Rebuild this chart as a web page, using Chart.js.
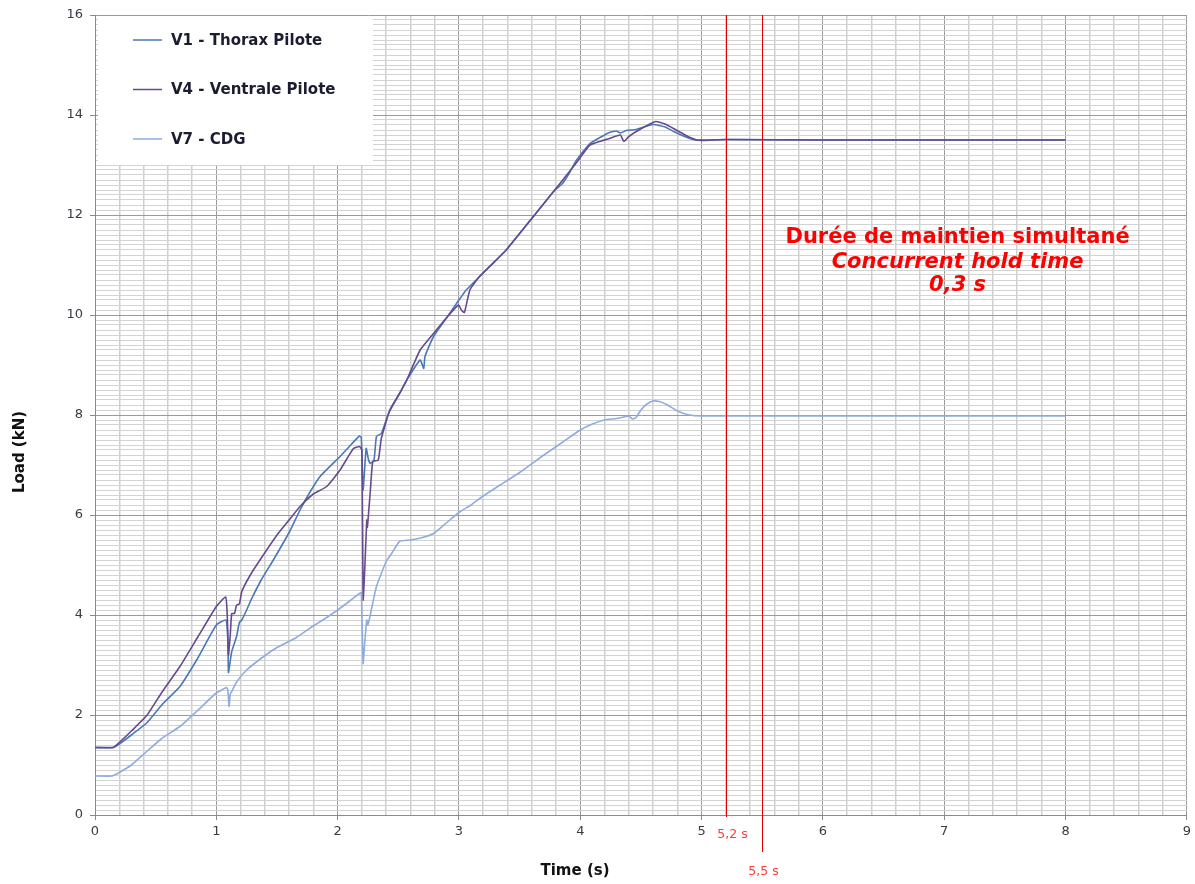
<!DOCTYPE html>
<html>
<head>
<meta charset="utf-8">
<title>Load vs time</title>
<script src="https://cdn.jsdelivr.net/npm/chart.js@4.4.1/dist/chart.umd.min.js"></script>
<style>
  html, body { margin: 0; padding: 0; background: #fff; }
  #wrap { width: 1195px; height: 884px; position: relative; }
</style>
</head>
<body>
<div id="wrap"><canvas id="chart"></canvas></div>
<script>
// V1 - Thorax Pilote
const v1Time = [0, 0.15, 0.2, 0.3, 0.43, 0.55, 0.7, 0.85, 1.0, 1.08, 1.095, 1.1, 1.11, 1.127, 1.167, 1.19, 1.21, 1.25, 1.29, 1.37, 1.47, 1.6, 1.69, 1.77, 1.855, 1.94, 2.02, 2.1, 2.18, 2.195, 2.21, 2.235, 2.255, 2.27, 2.3, 2.32, 2.36, 2.42, 2.51, 2.57, 2.68, 2.71, 2.72, 2.79, 2.9, 3.0, 3.06, 3.17, 3.39, 3.5, 3.65, 3.79, 3.85, 3.9, 3.97, 4.08, 4.24, 4.3, 4.33, 4.38, 4.46, 4.6, 4.7, 4.77, 4.85, 4.93, 5.0, 5.2, 6.0, 7.0, 8.0];
const v1Load = [1.35, 1.35, 1.42, 1.6, 1.85, 2.2, 2.57, 3.15, 3.8, 3.9, 3.5, 2.85, 3.0, 3.27, 3.57, 3.85, 3.9, 4.1, 4.32, 4.7, 5.1, 5.65, 6.1, 6.45, 6.77, 6.98, 7.17, 7.38, 7.58, 7.55, 6.5, 7.33, 7.1, 7.03, 7.1, 7.57, 7.63, 8.03, 8.43, 8.7, 9.1, 8.93, 9.17, 9.57, 9.95, 10.3, 10.5, 10.77, 11.3, 11.63, 12.08, 12.5, 12.62, 12.8, 13.1, 13.43, 13.65, 13.68, 13.64, 13.69, 13.71, 13.81, 13.76, 13.67, 13.58, 13.51, 13.49, 13.51, 13.5, 13.5, 13.5];

// V4 - Ventrale Pilote
const v4Time = [0, 0.15, 0.2, 0.3, 0.43, 0.55, 0.7, 0.85, 1.0, 1.077, 1.09, 1.1, 1.115, 1.127, 1.15, 1.167, 1.19, 1.21, 1.28, 1.36, 1.5, 1.6, 1.69, 1.8, 1.91, 2.02, 2.13, 2.18, 2.2, 2.21, 2.225, 2.24, 2.245, 2.27, 2.29, 2.335, 2.36, 2.43, 2.51, 2.57, 2.68, 2.79, 2.9, 2.995, 3.02, 3.045, 3.09, 3.17, 3.39, 3.5, 3.65, 3.79, 3.97, 4.08, 4.24, 4.33, 4.36, 4.4, 4.49, 4.62, 4.7, 4.79, 4.88, 4.96, 5.2, 6.0, 7.0, 8.0];
const v4Load = [1.35, 1.35, 1.45, 1.68, 2.0, 2.45, 2.97, 3.57, 4.17, 4.36, 4.0, 3.2, 3.6, 4.03, 4.03, 4.2, 4.22, 4.47, 4.8, 5.1, 5.6, 5.9, 6.17, 6.42, 6.57, 6.9, 7.33, 7.37, 7.3, 4.3, 5.0, 5.9, 5.75, 6.5, 7.07, 7.1, 7.53, 8.1, 8.43, 8.7, 9.3, 9.63, 9.95, 10.2, 10.1, 10.05, 10.5, 10.77, 11.3, 11.63, 12.08, 12.5, 13.05, 13.4, 13.53, 13.6, 13.47, 13.57, 13.71, 13.87, 13.82, 13.7, 13.58, 13.5, 13.51, 13.5, 13.5, 13.5];

// V7 - CDG
const v7Time = [0, 0.14, 0.2, 0.3, 0.426, 0.55, 0.7, 0.85, 0.995, 1.085, 1.095, 1.105, 1.115, 1.127, 1.17, 1.25, 1.39, 1.5, 1.66, 1.78, 1.91, 2.0, 2.1, 2.18, 2.195, 2.21, 2.225, 2.24, 2.25, 2.28, 2.32, 2.4, 2.45, 2.51, 2.6, 2.7, 2.79, 2.9, 3.01, 3.1, 3.2, 3.34, 3.5, 3.7, 3.85, 4.0, 4.1, 4.2, 4.3, 4.4, 4.43, 4.46, 4.5, 4.55, 4.6, 4.65, 4.72, 4.8, 4.9, 5.0, 6.0, 7.0, 8.0];
const v7Load = [0.78, 0.78, 0.85, 1.0, 1.27, 1.53, 1.77, 2.1, 2.43, 2.55, 2.5, 2.17, 2.42, 2.47, 2.67, 2.9, 3.17, 3.35, 3.55, 3.75, 3.95, 4.1, 4.28, 4.43, 4.45, 3.03, 3.5, 3.9, 3.8, 4.13, 4.57, 5.07, 5.25, 5.47, 5.5, 5.55, 5.63, 5.85, 6.07, 6.2, 6.38, 6.6, 6.85, 7.2, 7.45, 7.7, 7.82, 7.9, 7.93, 7.98, 7.92, 7.95, 8.1, 8.22, 8.28, 8.27, 8.2, 8.08, 8.0, 7.98, 7.98, 7.98, 7.98];

const seriesNames = ["V1 - Thorax Pilote", "V4 - Ventrale Pilote", "V7 - CDG"];
const seriesColors = ["#4a78b4", "#654a8e", "#8eaddc"];

const holdStart = 5.2;
const holdEnd = 5.5;
const holdLabels = ["5,2 s", "5,5 s"];
const noteLines = ["Durée de maintien simultané", "Concurrent hold time", "0,3 s"];

const FONT = "'DejaVu Sans', Verdana, sans-serif";

function toPoints(xs, ys) {
  return xs.map((x, i) => ({ x: x, y: ys[i] }));
}

function isWhole(v) {
  return Math.abs(v - Math.round(v)) < 1e-6;
}

function isMajorY(v) {
  return isWhole(v) && Math.round(v) % 2 === 0;
}

const overlay = {
  id: "overlay",
  afterDraw(chart) {
    const ctx = chart.ctx;
    const xs = chart.scales.x;
    const ys = chart.scales.y;
    const area = chart.chartArea;

    // legend box
    ctx.save();
    ctx.fillStyle = "#fff";
    ctx.fillRect(area.left + 3, area.top + 1, 275, 149);
    ctx.font = "bold 15px " + FONT;
    ctx.textBaseline = "middle";
    seriesNames.forEach((name, i) => {
      const y = area.top + 25 + i * 49.5;
      ctx.strokeStyle = seriesColors[i];
      ctx.lineWidth = 1.5;
      ctx.beginPath();
      ctx.moveTo(area.left + 38, y);
      ctx.lineTo(area.left + 67, y);
      ctx.stroke();
      ctx.fillStyle = "#1c1c30";
      ctx.fillText(name, area.left + 76, y + 1);
    });

    // hold time markers
    const x1 = Math.round(xs.getPixelForValue(holdStart)) + 0.5;
    const x2 = Math.round(xs.getPixelForValue(holdEnd)) + 0.5;
    ctx.strokeStyle = "#e00000";
    ctx.lineWidth = 1;
    ctx.beginPath();
    ctx.moveTo(x1, area.top);
    ctx.lineTo(x1, area.bottom + 2);
    ctx.moveTo(x2, area.top);
    ctx.lineTo(x2, area.bottom + 37);
    ctx.stroke();

    ctx.fillStyle = "#ff3a3a";
    ctx.font = "12.5px " + FONT;
    ctx.textAlign = "center";
    ctx.fillText(holdLabels[0], x1 + 6, area.bottom + 20);
    ctx.fillText(holdLabels[1], x2 + 1, area.bottom + 57);

    // note text
    const cx = xs.getPixelForValue(7.11);
    const cy = ys.getPixelForValue(11.5);
    ctx.fillStyle = "#ff0000";
    ctx.font = "bold 21px " + FONT;
    ctx.fillText(noteLines[0], cx, cy - 2);
    ctx.font = "italic bold 21px " + FONT;
    ctx.fillText(noteLines[1], cx, cy + 23);
    ctx.fillText(noteLines[2], cx, cy + 46);

    // axis titles
    ctx.fillStyle = "#111";
    ctx.font = "bold 15px " + FONT;
    ctx.fillText("Time (s)", 575, 871);
    ctx.translate(20, 452);
    ctx.rotate(-Math.PI / 2);
    ctx.fillText("Load (kN)", 0, 0);
    ctx.restore();
  }
};

const data = {
  datasets: [
    { label: seriesNames[0], data: toPoints(v1Time, v1Load), order: 3 },
    { label: seriesNames[1], data: toPoints(v4Time, v4Load), order: 2 },
    { label: seriesNames[2], data: toPoints(v7Time, v7Load), order: 1 }
  ].map((ds, i) => Object.assign(ds, {
    borderColor: seriesColors[i],
    backgroundColor: seriesColors[i],
    borderWidth: 1.6,
    pointRadius: 0,
    tension: 0.15,
    fill: false
  }))
};

new Chart(document.getElementById("chart"), {
  type: "line",
  data: data,
  plugins: [overlay],
  options: {
    responsive: true,
    maintainAspectRatio: false,
    animation: false,
    layout: { padding: { top: 15, right: 8, bottom: 0, left: 0 } },
    plugins: {
      legend: { display: false },
      tooltip: { enabled: false }
    },
    scales: {
      x: {
        type: "linear",
        min: 0,
        max: 9,
        afterFit(scale) { scale.height = 69; },
        border: { display: true, color: "#8a8a8a", width: 1 },
        grid: {
          color: (c) => isWhole(c.tick.value) ? "#9a9a9a" : "#cfcfcf",
          lineWidth: (c) => isWhole(c.tick.value) ? 1 : 1.5,
          tickColor: (c) => isWhole(c.tick.value) ? "#8a8a8a" : "rgba(0,0,0,0)",
          tickLength: 5
        },
        ticks: {
          stepSize: 0.2,
          autoSkip: false,
          maxRotation: 0,
          padding: 4,
          color: "#3a3a48",
          font: { family: FONT, size: 13 },
          callback: (v) => isWhole(v) ? String(Math.round(v)) : ""
        }
      },
      y: {
        min: 0,
        max: 16,
        afterFit(scale) { scale.width = 95; },
        border: { display: true, color: "#8a8a8a", width: 1 },
        grid: {
          color: (c) => isMajorY(c.tick.value) ? "#9a9a9a" : "#d3d3d3",
          lineWidth: 1,
          tickColor: (c) => isMajorY(c.tick.value) ? "#8a8a8a" : "rgba(0,0,0,0)",
          tickLength: 5
        },
        ticks: {
          stepSize: 0.1,
          autoSkip: false,
          padding: 7,
          color: "#3a3a48",
          font: { family: FONT, size: 13 },
          callback: (v) => isMajorY(v) ? String(Math.round(v)) : ""
        }
      }
    }
  }
});
</script>
</body>
</html>
